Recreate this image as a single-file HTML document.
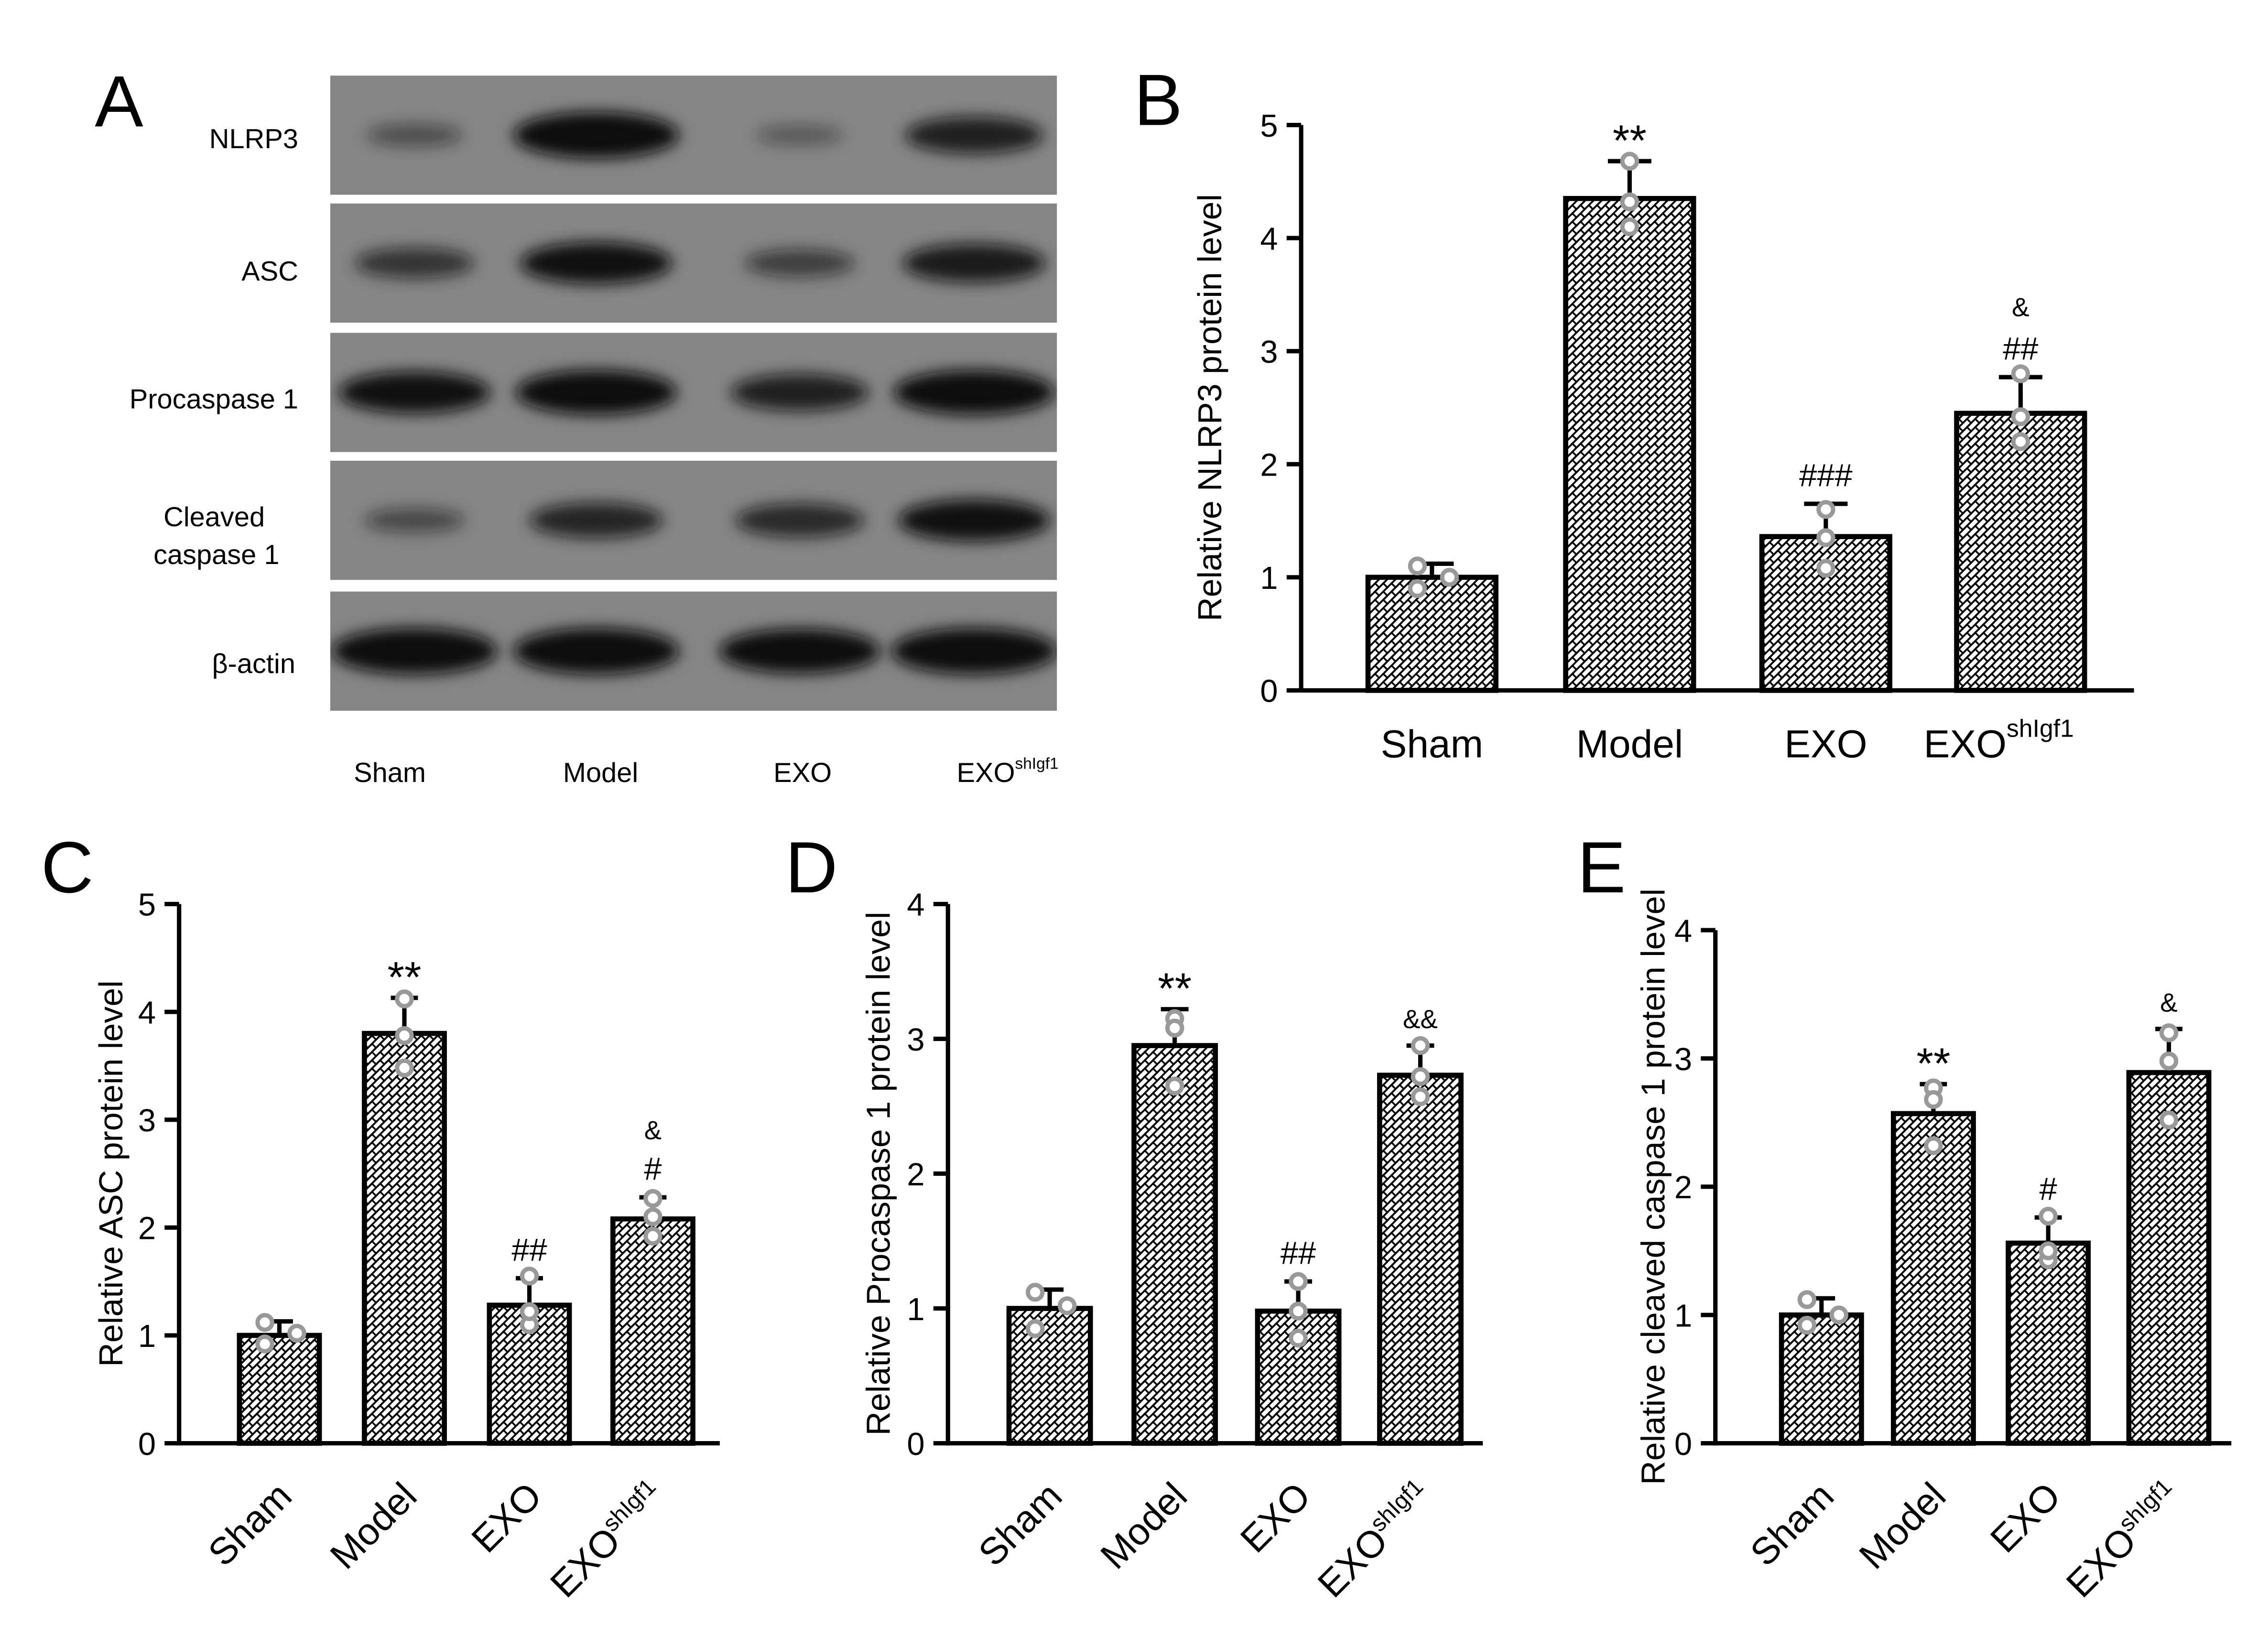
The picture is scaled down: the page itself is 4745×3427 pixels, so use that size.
<!DOCTYPE html>
<html><head><meta charset="utf-8"><style>
html,body{margin:0;padding:0;background:#fff}
svg{display:block}
text{font-family:"Liberation Sans",Arial,sans-serif}
</style></head><body>
<svg id="fig" width="4745" height="3427" viewBox="0 0 1560 1127" xmlns="http://www.w3.org/2000/svg">
<defs>
<pattern id="hatch" width="8" height="8" patternUnits="userSpaceOnUse" patternTransform="rotate(-45)">
<rect width="8" height="8" fill="#fff"/>
<line x1="0" y1="0.6" x2="8" y2="0.6" stroke="#000" stroke-width="1.3"/>
<line x1="1" y1="0" x2="1" y2="4" stroke="#000" stroke-width="1.2"/>
<line x1="5" y1="4" x2="5" y2="8" stroke="#000" stroke-width="1.2"/>
<line x1="0" y1="4.6" x2="8" y2="4.6" stroke="#000" stroke-width="1.3"/>
</pattern>
<filter id="blur" x="-30%" y="-80%" width="160%" height="260%"><feGaussianBlur stdDeviation="5"/></filter>
<clipPath id="blotclip"><rect x="227" y="52" width="500" height="438"/></clipPath>
</defs>
<g id="panelA">
<text x="65" y="87" font-size="50">A</text>
</g>
<g id="charts"></g>
</svg>
<script>
const NS="http://www.w3.org/2000/svg";
function mk(tag,attrs,parent){const e=document.createElementNS(NS,tag);for(const k in attrs)e.setAttribute(k,attrs[k]);parent.appendChild(e);return e;}

// ---- Panel A blot data ----
const blotRows=["NLRP3","ASC","Procaspase 1","Cleaved caspase 1","β-actin"];
const blotLanes=["Sham","Model","EXO","EXOshIgf1"];
const blotIntensity=[[0.25,1.0,0.15,0.7],[0.5,0.85,0.4,0.75],[0.85,0.95,0.7,0.95],[0.3,0.65,0.6,0.85],[1.0,1.0,0.95,1.0]];
const A=document.getElementById('panelA');
const rowY=[52,140,229,317,407], rowH=82, laneX=[285,410,550,670];
const bandsG=mk('g',{'clip-path':'url(#blotclip)'},A);
blotRows.forEach((r,i)=>{
  const g=mk('g',{},bandsG);
  
  
  mk('rect',{x:227,y:rowY[i],width:500,height:rowH,fill:'#858585'},g);
  blotIntensity[i].forEach((v,j)=>{
    const b=mk('ellipse',{cx:laneX[j],cy:rowY[i]+rowH/2,rx:25+32*v,ry:5+11*v,fill:'#111',opacity:Math.min(1,0.25+0.85*v),filter:'url(#blur)'},g);
    
    
  });
});
const lbls=[["NLRP3",96,205],["ASC",187,205],["Procaspase 1",275,205],["Cleaved",356,182],["caspase 1",382,192],["β-actin",457,203]];
lbls.forEach(l=>{const t=mk('text',{x:l[2],y:l[1]+6,'font-size':19,'text-anchor':'end'},A);t.textContent=l[0];
});
const laneLblX=[268,413,552];
["Sham","Model","EXO"].forEach((l,i)=>{const t=mk('text',{x:laneLblX[i],y:538,'font-size':19,'text-anchor':'middle'},A);t.textContent=l;
});
{const t=mk('text',{x:658,y:538,'font-size':19},A);t.innerHTML='EXO<tspan font-size="11" dy="-9">shIgf1</tspan>';
}

// ---- Chart data ----
const categories=["Sham","Model","EXO","EXO"];
const nlrp3Means=[1.0,4.35,1.36,2.45];
const nlrp3Err=[0.12,0.33,0.29,0.32];
const nlrp3Points=[[1.1,0.9,1.0],[4.68,4.32,4.1],[1.6,1.35,1.08],[2.8,2.42,2.2]];
const nlrp3Marks=["","**","###","&|##"];
const ascMeans=[1.0,3.8,1.28,2.08];
const ascErr=[0.13,0.33,0.25,0.2];
const ascPoints=[[1.12,0.92,1.02],[4.12,3.78,3.48],[1.55,1.1,1.22],[2.27,2.1,1.92]];
const ascMarks=["","**","##","&|#"];
const procMeans=[1.0,2.95,0.98,2.73];
const procErr=[0.14,0.27,0.22,0.22];
const procPoints=[[1.12,0.85,1.02],[3.15,2.65,3.08],[1.2,0.98,0.78],[2.95,2.72,2.57]];
const procMarks=["","**","##","&&"];
const cleavMeans=[1.0,2.57,1.56,2.89];
const cleavErr=[0.13,0.23,0.2,0.34];
const cleavPoints=[[1.12,0.92,1.0],[2.77,2.32,2.68],[1.77,1.43,1.5],[3.2,2.98,2.52]];
const cleavMarks=["","**","#","&"];
const yTicksB=[0,1,2,3,4,5];
const yTicks4=[0,1,2,3,4];

const C=document.getElementById('charts');
function chart(cfg){
  const g=mk('g',{},C);
  
  
  const y=v=>cfg.y0-(cfg.y0-cfg.yTop)*v/cfg.max;
  const pl=mk('text',{x:cfg.px,y:cfg.py,'font-size':50},g);pl.textContent=cfg.label;
  
  mk('line',{x1:cfg.ax,y1:y(cfg.max),x2:cfg.ax,y2:cfg.y0+1.5,stroke:'#000','stroke-width':3},g);
  mk('line',{x1:cfg.ax-1.5,y1:cfg.y0,x2:cfg.xEnd,y2:cfg.y0,stroke:'#000','stroke-width':3},g);
  cfg.ticks.forEach(t=>{
    mk('line',{x1:cfg.ax-10,y1:y(t),x2:cfg.ax,y2:y(t),stroke:'#000','stroke-width':3},g);
    const tx=mk('text',{x:cfg.ax-16,y:y(t)+8,'font-size':22,'text-anchor':'end'},g);tx.textContent=t;
    
  });
  const yt=mk('text',{transform:`translate(${cfg.titleX},${(cfg.y0+y(cfg.max))/2}) rotate(-90)`,'font-size':23,'text-anchor':'middle'},g);
  yt.textContent=cfg.title;
  cfg.means.forEach((m,i)=>{
    const cx=cfg.cx[i], w=cfg.bw;
    const top=y(m+cfg.err[i]);
    mk('line',{x1:cx,y1:y(m),x2:cx,y2:top,stroke:'#000','stroke-width':3},g);
    mk('line',{x1:cx-w*0.17,y1:top,x2:cx+w*0.17,y2:top,stroke:'#000','stroke-width':3},g);
    const b=mk('rect',{x:cx-w/2,y:y(m),width:w,height:cfg.y0-y(m),fill:'url(#hatch)',stroke:'#000','stroke-width':3.5},g);
    
    
    const offs=i===0?[-10,-10,12]:[0,0,0];
    cfg.points[i].forEach((p,k)=>{
      const c=mk('circle',{cx:cx+offs[k],cy:y(p),r:5,fill:'#fff',stroke:'#999','stroke-width':3},g);
      
    });
    const mk2=cfg.marks[i].split('|').reverse();
    mk2.forEach((s,k)=>{if(!s)return;
      const big=s==='**';
      const t=mk('text',{x:cx,y:top-(big?4:12)-k*(cfg.markGap),'font-size':big?30:(s.startsWith('&')?18:22),'text-anchor':'middle'},g);
      t.textContent=s;
    });
    if(cfg.rot){
      const lx=cx+10, ly=cfg.y0+38;
      const t=mk('text',{transform:`translate(${lx},${ly}) rotate(-45)`,'font-size':cfg.xfs,'text-anchor':'end'},g);
      if(i===3) t.innerHTML='EXO<tspan font-size="'+Math.round(cfg.xfs*0.6)+'" dy="-10">shIgf1</tspan>'; else t.textContent=cfg.cats[i];
      
    } else {
      const t=mk('text',{x:cx-(i===3?15:0),y:cfg.y0+46,'font-size':cfg.xfs,'text-anchor':'middle'},g);
      if(i===3) t.innerHTML='EXO<tspan font-size="17" dy="-14">shIgf1</tspan>'; else t.textContent=cfg.cats[i];
      
    }
  });
}
chart({name:'chart-b-nlrp3',label:'B',px:780,py:86,ax:895,y0:475,yTop:86,max:5,xEnd:1468,ticks:yTicksB,titleX:840,
  title:'Relative NLRP3 protein level',means:nlrp3Means,err:nlrp3Err,points:nlrp3Points,marks:nlrp3Marks,cats:categories,
  cx:[985,1121,1256,1390],bw:88,rot:false,xfs:27,markGap:30});
chart({name:'chart-c-asc',label:'C',px:28,py:614,ax:123,y0:993,yTop:622,max:5,xEnd:495,ticks:yTicksB,titleX:84,
  title:'Relative ASC protein level',means:ascMeans,err:ascErr,points:ascPoints,marks:ascMarks,cats:categories,
  cx:[192,278,364,449],bw:55,rot:true,xfs:26,markGap:28});
chart({name:'chart-d-procaspase1',label:'D',px:540,py:614,ax:652,y0:993,yTop:622,max:4,xEnd:1020,ticks:yTicks4,titleX:612,
  title:'Relative Procaspase 1 protein level',means:procMeans,err:procErr,points:procPoints,marks:procMarks,cats:categories,
  cx:[722,808,893,977],bw:56,rot:true,xfs:26,markGap:28});
chart({name:'chart-e-cleaved-caspase1',label:'E',px:1085,py:614,ax:1180,y0:993,yTop:640,max:4,xEnd:1535,ticks:yTicks4,titleX:1145,
  title:'Relative cleaved caspase 1 protein level',means:cleavMeans,err:cleavErr,points:cleavPoints,marks:cleavMarks,cats:categories,
  cx:[1253,1330,1409,1492],bw:55,rot:true,xfs:26,markGap:28});
</script>
</body></html>
